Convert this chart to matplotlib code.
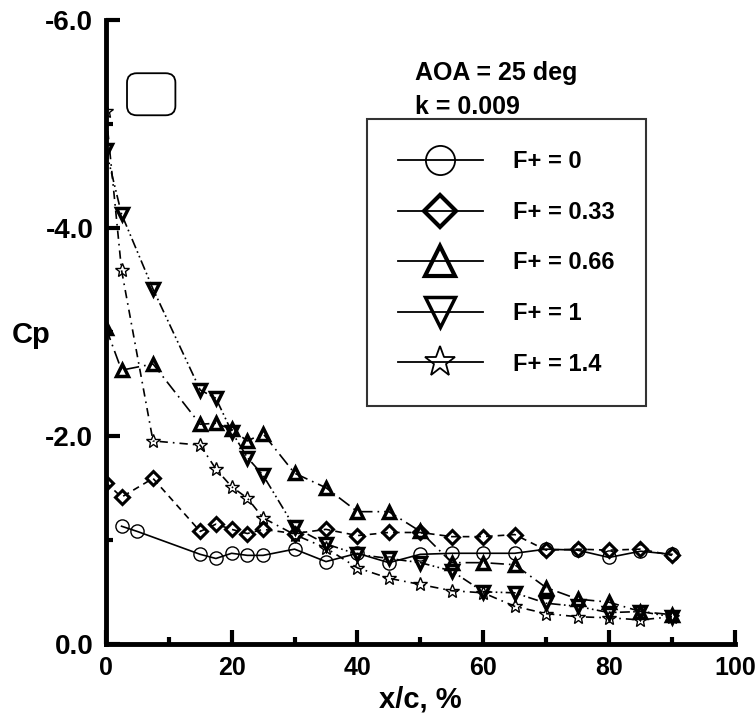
import matplotlib.pyplot as plt
from matplotlib.lines import Line2D
from matplotlib.patches import FancyBboxPatch
from matplotlib.ticker import MultipleLocator

plt.rcParams['font.family'] = ['Liberation Sans', 'DejaVu Sans']
plt.rcParams['font.weight'] = 'bold'

# pressure taps, x/c in percent
x_f0 = [2.5, 5, 15, 17.5, 20, 22.5, 25, 30, 35, 40, 45, 50, 55, 60, 65, 70, 75, 80, 85, 90]
x_taps = [0, 2.5, 7.5, 15, 17.5, 20, 22.5, 25, 30, 35, 40, 45, 50, 55, 60, 65, 70, 75, 80, 85, 90]

cp_f0 = [-1.13, -1.08, -0.86, -0.82, -0.87, -0.85, -0.85, -0.91, -0.79, -0.87,
         -0.78, -0.86, -0.87, -0.87, -0.87, -0.91, -0.90, -0.83, -0.89, -0.86]
cp_f033 = [-1.55, -1.41, -1.59, -1.08, -1.15, -1.10, -1.06, -1.10, -1.06, -1.10, -1.04,
           -1.07, -1.07, -1.03, -1.03, -1.05, -0.90, -0.91, -0.90, -0.91, -0.85]
cp_f066 = [-3.04, -2.63, -2.69, -2.11, -2.12, -2.06, -1.95, -2.02, -1.64, -1.50, -1.27,
           -1.27, -1.08, -0.78, -0.78, -0.76, -0.54, -0.43, -0.40, -0.31, -0.28]
cp_f1 = [-4.75, -4.13, -3.41, -2.44, -2.36, -2.04, -1.79, -1.62, -1.12, -0.96, -0.86,
         -0.82, -0.78, -0.70, -0.50, -0.49, -0.39, -0.36, -0.30, -0.31, -0.26]
cp_f14 = [-5.12, -3.59, -1.95, -1.91, -1.68, -1.51, -1.40, -1.21, -1.05, -0.92, -0.73,
          -0.63, -0.57, -0.51, -0.49, -0.36, -0.29, -0.26, -0.25, -0.23, -0.26]

labels = ['F+ = 0', 'F+ = 0.33', 'F+ = 0.66', 'F+ = 1', 'F+ = 1.4']

fig = plt.figure(figsize=(7.56, 7.25), dpi=100)
ax = fig.add_axes([0.140, 0.112, 0.832, 0.861])

series = [
    (x_f0, cp_f0, 'o', 9.5, 1.0, (None, None)),
    (x_taps, cp_f033, 'D', 7.5, 2.2, (4, 3)),
    (x_taps, cp_f066, '^', 8.5, 2.5, (8, 3, 1, 3)),
    (x_taps, cp_f1, 'v', 8.5, 2.5, (6, 2, 1, 2, 1, 2)),
    (x_taps, cp_f14, '*', 10, 1.0, (5, 3, 1, 3)),
]
for xs, ys, m, ms, mew, dash in series:
    ln, = ax.plot(xs, ys, color='black', lw=1.2, marker=m, ms=ms,
                  mfc='none', mec='black', mew=mew)
    if dash[0] is not None:
        ln.set_dashes(dash)

ax.set_xlim(0, 100)
ax.set_ylim(0, -6)
ax.xaxis.set_major_locator(MultipleLocator(20))
ax.xaxis.set_minor_locator(MultipleLocator(10))
ax.yaxis.set_major_locator(MultipleLocator(2))
ax.yaxis.set_minor_locator(MultipleLocator(1))
ax.set_yticks([0, -2, -4, -6])
ax.set_yticklabels(['0.0', '-2.0', '-4.0', '-6.0'])

for s in ['top', 'right']:
    ax.spines[s].set_visible(False)
for s in ['left', 'bottom']:
    ax.spines[s].set_linewidth(3.5)
ax.tick_params(which='major', direction='in', length=10, width=3, pad=9)
ax.tick_params(which='minor', direction='in', length=5, width=3)
ax.tick_params(axis='y', labelsize=20)
ax.tick_params(axis='x', labelsize=18)
for t in ax.get_xticklabels() + ax.get_yticklabels():
    t.set_fontweight('bold')

ax.set_xlabel('x/c, %', fontsize=21, fontweight='bold', labelpad=4)
ax.text(-0.149, 0.495, 'Cp', transform=ax.transAxes, fontsize=21, fontweight='bold',
        ha='left', va='center')

ax.text(0.491, 0.904, 'AOA = 25 deg', transform=ax.transAxes, fontsize=18,
        fontweight='bold', va='baseline')
ax.text(0.491, 0.848, 'k = 0.009', transform=ax.transAxes, fontsize=18,
        fontweight='bold', va='baseline')

handles = [
    Line2D([], [], color='black', lw=1.3, marker='o', ms=21, mfc='none', mew=1.3),
    Line2D([], [], color='black', lw=1.3, marker='D', ms=16, mfc='none', mew=3),
    Line2D([], [], color='black', lw=1.3, marker='^', ms=21, mfc='none', mew=3),
    Line2D([], [], color='black', lw=1.3, marker='v', ms=21, mfc='none', mew=2.5),
    Line2D([], [], color='black', lw=1.3, marker='*', ms=23, mfc='none', mew=1.3),
]
leg = ax.legend(handles, labels, loc='upper left', bbox_to_anchor=(0.415, 0.840),
                prop={'size': 17, 'weight': 'bold'}, frameon=True, fancybox=False,
                handlelength=3.6, handletextpad=1.3, labelspacing=1.17,
                borderpad=1.3, borderaxespad=0, edgecolor='black')
leg.get_frame().set_linewidth(1.5)

# empty rounded box near the top left
fig.patches.append(FancyBboxPatch((0.168, 0.841), 0.064, 0.058,
                                  boxstyle='round,pad=0,rounding_size=0.013',
                                  transform=fig.transFigure, fill=False,
                                  ec='black', lw=1.3))

fig.savefig('out.png', dpi=100)
